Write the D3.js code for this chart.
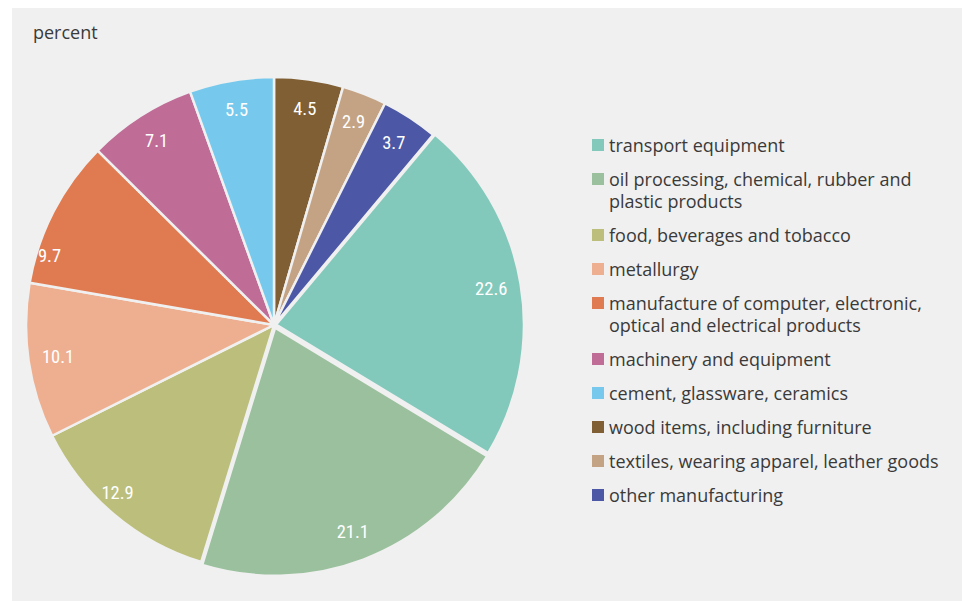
<!DOCTYPE html>
<html>
<head>
<meta charset="utf-8">
<script src="https://cdn.jsdelivr.net/npm/d3@7"></script>
<style>
  html, body { margin: 0; padding: 0; background: #ffffff; }
  svg { display: block; }
</style>
</head>
<body>
<svg id="chart" width="962" height="601"></svg>
<script>
// Manufacturing output by branch, percent shares (clockwise from 12 o'clock)
const sliceNames = [
  "wood items, including furniture",
  "textiles, wearing apparel, leather goods",
  "other manufacturing",
  "transport equipment",
  "oil processing, chemical, rubber and plastic products",
  "food, beverages and tobacco",
  "metallurgy",
  "manufacture of computer, electronic, optical and electrical products",
  "machinery and equipment",
  "cement, glassware, ceramics"
];
const sliceValues = [4.5, 2.9, 3.7, 22.6, 21.1, 12.9, 10.1, 9.7, 7.1, 5.5];
const sliceColors = ["#7f5f33", "#c4a385", "#4c58a5", "#83c9bb", "#9bc09e",
                     "#bcbf7b", "#eeaf90", "#e07b51", "#bf6c97", "#76c9ec"];

// Legend order and wrapped lines
const legendOrder = [3, 4, 5, 6, 7, 8, 9, 0, 1, 2];
const legendLines = [
  ["wood items, including furniture"],
  ["textiles, wearing apparel, leather goods"],
  ["other manufacturing"],
  ["transport equipment"],
  ["oil processing, chemical, rubber and", "plastic products"],
  ["food, beverages and tobacco"],
  ["metallurgy"],
  ["manufacture of computer, electronic,", "optical and electrical products"],
  ["machinery and equipment"],
  ["cement, glassware, ceramics"]
];
const titleText = "percent";

const svg = d3.select("#chart");
const panelColor = "#f0f0f0";
const textFont = "'Open Sans', 'Noto Sans', sans-serif";

svg.append("rect")
  .attr("x", 12).attr("y", 8)
  .attr("width", 950).attr("height", 593)
  .attr("fill", panelColor);

svg.append("text")
  .attr("x", 33).attr("y", 39)
  .attr("font-family", textFont)
  .attr("font-size", 18)
  .attr("fill", "#3a3a3a")
  .text(titleText);

const cx = 274, cy = 325, radius = 248;
// slight outward pull of the two largest wedges
const explode = [0, 0, 0, 2, 3, 0, 0, 0, 0, 0];
// per-slice label placement tweaks: [angle shift in degrees, radius factor]
const labelNudge = { 5: [2.6, 0.927], 7: [-10.2, 0.947] };

const pie = d3.pie().sort(null).value(d => d)
  .startAngle(0).endAngle(2 * Math.PI);
const arcs = pie(sliceValues);
const arc = d3.arc().innerRadius(0).outerRadius(radius);

function labelPos(d, i) {
  const nudge = labelNudge[i] || [0, 0.88];
  const a = (d.startAngle + d.endAngle) / 2 + nudge[0] * Math.PI / 180;
  const r = radius * nudge[1];
  return [Math.sin(a) * r, -Math.cos(a) * r];
}

const g = svg.append("g").attr("transform", `translate(${cx},${cy})`);

const slices = g.selectAll("g.slice").data(arcs).enter().append("g")
  .attr("class", "slice")
  .attr("transform", (d, i) => {
    const a = (d.startAngle + d.endAngle) / 2;
    return `translate(${Math.sin(a) * explode[i]},${-Math.cos(a) * explode[i]})`;
  });

slices.append("path")
  .attr("d", arc)
  .attr("fill", (d, i) => sliceColors[i])
  .attr("stroke", panelColor)
  .attr("stroke-width", 2.5)
  .attr("stroke-linejoin", "round");

slices.append("text")
  .attr("transform", (d, i) => `translate(${labelPos(d, i)})`)
  .attr("text-anchor", "middle")
  .attr("dominant-baseline", "central")
  .attr("font-family", "'Liberation Sans Narrow', 'Roboto Condensed', 'DejaVu Sans Condensed', sans-serif")
  .attr("font-size", 18.5)
  .attr("fill", "#ffffff")
  .text(d => d3.format(".1f")(d.value));

// Legend
const legend = svg.append("g").attr("transform", "translate(592,0)");
let y = 145;
legendOrder.forEach(i => {
  const item = legend.append("g");
  item.append("rect")
    .attr("x", 0).attr("y", y - 6)
    .attr("width", 12).attr("height", 12)
    .attr("fill", sliceColors[i]);
  legendLines[i].forEach((line, k) => {
    item.append("text")
      .attr("x", 17).attr("y", y + k * 22)
      .attr("dominant-baseline", "central")
      .attr("font-family", textFont)
      .attr("font-size", 18)
      .attr("fill", "#3a3a3a")
      .text(line);
  });
  y += 34 + (legendLines[i].length - 1) * 22;
});
</script>
</body>
</html>
